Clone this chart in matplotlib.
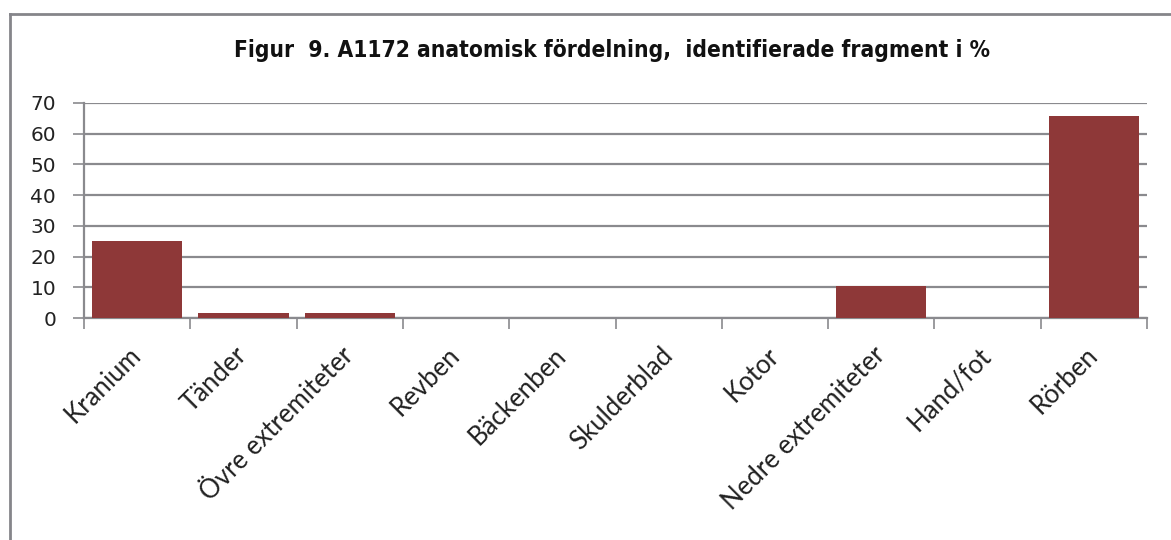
import matplotlib.pyplot as plt
from matplotlib.lines import Line2D

categories = ['Kranium', 'Tänder', 'Övre extremiteter', 'Revben', 'Bäckenben',
              'Skulderblad', 'Kotor', 'Nedre extremiteter', 'Hand/fot', 'Rörben']
percent = [25, 1.6, 1.6, 0, 0, 0, 0, 10.5, 0, 65.8]
yticks = [0, 10, 20, 30, 40, 50, 60, 70]

bar_color = '#8e3838'
grid_color = '#8a8a8e'

fig = plt.figure(figsize=(11.71, 5.40), dpi=100)
ax = fig.add_axes([84 / 1171, 1 - 318 / 540, (1147 - 84) / 1171, (318 - 103) / 540])

x = range(len(categories))
ax.bar(x, percent, width=0.85, color=bar_color, zorder=3)

ax.set_xlim(-0.5, len(categories) - 0.5)
ax.set_ylim(0, 70)
ax.set_yticks(yticks)
ax.set_yticklabels([str(v) for v in yticks], fontsize=14.5, family='DejaVu Sans',
                   color='#222222')
ax.yaxis.grid(True, color=grid_color, linewidth=1.6, zorder=0)
ax.tick_params(axis='y', length=8, width=1.2, color=grid_color, pad=12)

# ticks sit on category boundaries, labels on category centres
ax.set_xticks([i - 0.5 for i in range(len(categories) + 1)])
ax.set_xticklabels([])
ax.set_xticks(list(x), minor=True)
ax.set_xticklabels(categories, minor=True, rotation=45, ha='right', va='center',
                   rotation_mode='anchor', fontsize=18.5, family='Lato',
                   color='#222222')
ax.tick_params(axis='x', which='major', length=8, width=1.2, color=grid_color,
               direction='out')
ax.tick_params(axis='x', which='minor', length=0, pad=24)

for side in ('top', 'right'):
    ax.spines[side].set_visible(False)
for side in ('left', 'bottom'):
    ax.spines[side].set_color(grid_color)
    ax.spines[side].set_linewidth(1.6)

fig.text(612 / 1171, 1 - 50 / 540,
         'Figur  9. A1172 anatomisk fördelning,  identifierade fragment i %',
         ha='center', va='center', fontsize=16.3, fontweight='bold',
         family='DejaVu Sans', fontstretch='condensed', color='#111111')

# chart area frame
fig.add_artist(Line2D([9.5 / 1171, 9.5 / 1171], [0, 1 - 14 / 540],
                      transform=fig.transFigure, color='#85858a', linewidth=2))
fig.add_artist(Line2D([9.5 / 1171, 1], [1 - 14 / 540, 1 - 14 / 540],
                      transform=fig.transFigure, color='#85858a', linewidth=2))

fig.savefig('out.png', dpi=100)
